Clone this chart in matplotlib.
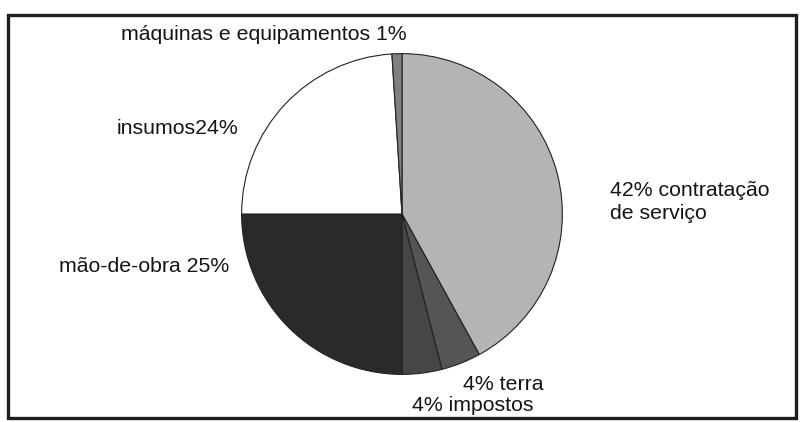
import matplotlib
matplotlib.use("Agg")
import matplotlib.pyplot as plt
from matplotlib.patches import Rectangle

plt.rcParams['font.family'] = ['Liberation Sans', 'DejaVu Sans']

# slices, clockwise from the top
categories = ['contratação de serviço', 'terra', 'impostos', 'mão-de-obra',
              'insumos', 'máquinas e equipamentos']
shares = [42, 4, 4, 25, 24, 1]
labels = ['42% contratação\nde serviço', '4% terra', '4% impostos',
          'mão-de-obra 25%', 'insumos24%', 'máquinas e equipamentos 1%']
colors = ['#b4b4b4', '#555555', '#464646', '#2a2a2a', '#ffffff', '#808080']

W, H = 803, 422
fig = plt.figure(figsize=(W / 100, H / 100), dpi=100)
fig.patch.set_facecolor('white')

# pixel coords (from top-left) -> figure fraction
def px(x, y):
    return x / W, 1 - y / H

# frame around the chart
x0, y0 = px(8, 418)
x1, y1 = px(796, 15)
fig.patches.append(Rectangle((x0, y0), x1 - x0, y1 - y0, transform=fig.transFigure,
                             fill=False, edgecolor='#1e1e1e', linewidth=2.4))

# pie axes, centre at (402, 214) px, radius ~161 px
cx, cy, r = 402, 214, 162
ax = fig.add_axes([(cx - r) / W, (H - cy - r) / H, 2 * r / W, 2 * r / H])
ax.pie(shares, colors=colors, startangle=90, counterclock=False, radius=0.99,
       wedgeprops=dict(edgecolor='#222222', linewidth=0.8))
ax.set_xlim(-1, 1)
ax.set_ylim(-1, 1)
ax.set_aspect('auto')
ax.axis('off')

# label positions in pixels (left x, baseline y of first line)
label_pos = [(610, 196), (463, 390), (412, 411), (59, 272), (117, 134), (121, 40)]
line_gap = 23
for lab, (lx, ly) in zip(labels, label_pos):
    for i, line in enumerate(lab.split('\n')):
        fx, fy = px(lx, ly + i * line_gap)
        fig.text(fx, fy, line, ha='left', va='baseline', fontsize=15.3,
                 color='#151515')

fig.savefig('out.png', dpi=100)
